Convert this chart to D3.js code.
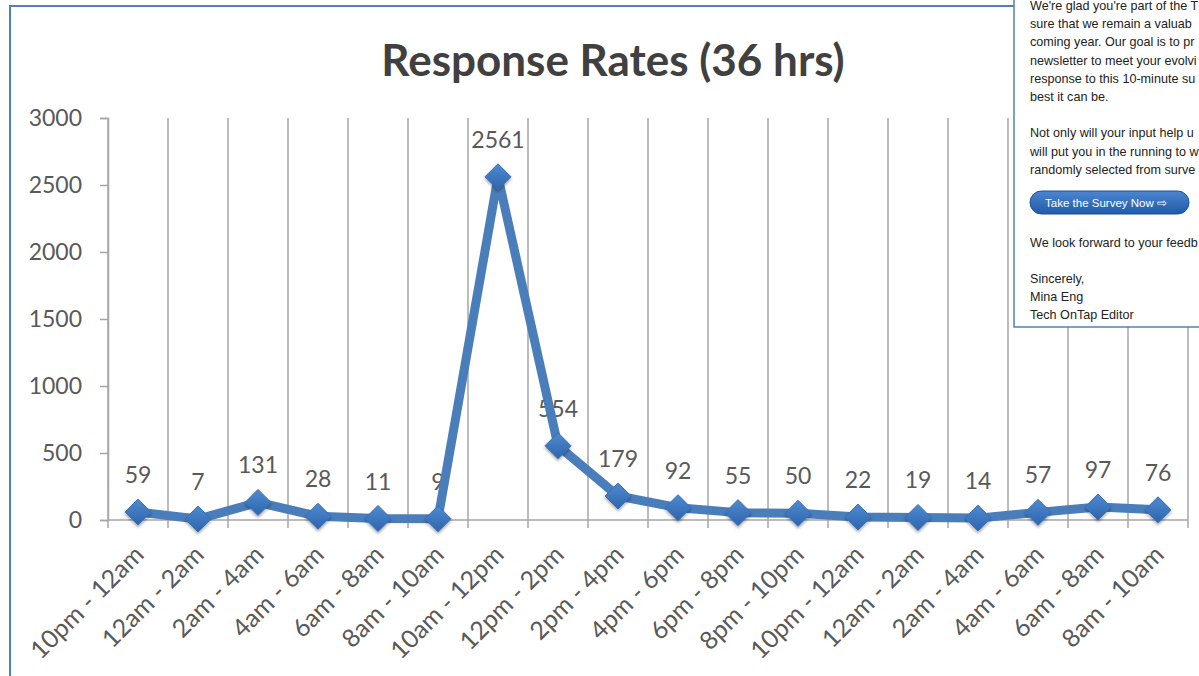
<!DOCTYPE html>
<html>
<head>
<meta charset="utf-8">
<script src="https://cdn.jsdelivr.net/npm/d3@7"></script>
<style>
  body { margin: 0; background: #fff; overflow: hidden; }
</style>
</head>
<body>
<div id="viz"></div>
<script>
var categories = ["10pm - 12am", "12am - 2am", "2am - 4am", "4am - 6am", "6am - 8am", "8am - 10am",
    "10am - 12pm", "12pm - 2pm", "2pm - 4pm", "4pm - 6pm", "6pm - 8pm", "8pm - 10pm",
    "10pm - 12am", "12am - 2am", "2am - 4am", "4am - 6am", "6am - 8am", "8am - 10am"];
var responses = [59, 7, 131, 28, 11, 9, 2561, 554, 179, 92, 55, 50, 22, 19, 14, 57, 97, 76];
var yTicks = [0, 500, 1000, 1500, 2000, 2500, 3000];
var title = "Response Rates (36 hrs)";
// the letter is cut off by the window edge; only the visible part is kept
var letterLines = [
    "We're glad you're part of the T",
    "sure that we remain a valuab",
    "coming year. Our goal is to pr",
    "newsletter to meet your evolvi",
    "response to this 10-minute su",
    "best it can be.",
    "",
    "Not only will your input help u",
    "will put you in the running to w",
    "randomly selected from surve",
    "",
    "",
    "",
    "We look forward to your feedb",
    "",
    "Sincerely,",
    "Mina Eng",
    "Tech OnTap Editor"
];
var buttonLabel = "Take the Survey Now \u21E8";

var width = 1199, height = 676;
var svg = d3.select("#viz").append("svg")
    .attr("width", width)
    .attr("height", height);

var defs = svg.append("defs");
var grad = defs.append("linearGradient").attr("id", "dia")
    .attr("x1", 0).attr("y1", 0).attr("x2", 0).attr("y2", 1);
grad.append("stop").attr("offset", "0%").attr("stop-color", "#4f8ad0");
grad.append("stop").attr("offset", "100%").attr("stop-color", "#2d65ae");
var shadow = defs.append("filter").attr("id", "shd")
    .attr("x", "-50%").attr("y", "-50%").attr("width", "200%").attr("height", "200%");
shadow.append("feDropShadow").attr("dx", 0).attr("dy", 2).attr("stdDeviation", 1.5)
    .attr("flood-color", "#000").attr("flood-opacity", 0.35);
var btnGrad = defs.append("linearGradient").attr("id", "btn")
    .attr("x1", 0).attr("y1", 0).attr("x2", 0).attr("y2", 1);
btnGrad.append("stop").attr("offset", "0%").attr("stop-color", "#4d86cf");
btnGrad.append("stop").attr("offset", "100%").attr("stop-color", "#1f5bab");

// chart frame
svg.append("path")
    .attr("d", "M10,676 L10,6 L1199,6")
    .attr("fill", "none")
    .attr("stroke", "#4f81bd")
    .attr("stroke-width", 2);

var plotLeft = 108, plotRight = 1188, plotTop = 118, plotBottom = 520;
var labelFont = "Lato, 'Open Sans', sans-serif";

var x = d3.scaleBand()
    .domain(d3.range(categories.length))
    .range([plotLeft, plotRight]);

var y = d3.scaleLinear()
    .domain([0, 3000])
    .range([plotBottom, plotTop]);

svg.append("text")
    .attr("x", 613)
    .attr("y", 76)
    .attr("text-anchor", "middle")
    .attr("font-family", labelFont)
    .attr("font-weight", "bold")
    .attr("font-size", 44)
    .attr("fill", "#404040")
    .text(title);

// vertical gridlines at category boundaries
var bounds = d3.range(categories.length + 1).map(function(i) { return plotLeft + i * x.bandwidth(); });
svg.selectAll("line.grid")
    .data(bounds)
    .enter().append("line")
    .attr("class", "grid")
    .attr("x1", function(d) { return d; })
    .attr("x2", function(d) { return d; })
    .attr("y1", plotTop)
    .attr("y2", plotBottom + 8)
    .attr("stroke", "#a6a6a6")
    .attr("stroke-width", 1.5);

var yAxis = svg.append("g")
    .attr("transform", "translate(" + plotLeft + ",0)")
    .call(d3.axisLeft(y).tickValues(yTicks).tickFormat(d3.format("d")).tickSize(8).tickPadding(18));
yAxis.select(".domain").attr("stroke", "#a6a6a6").attr("stroke-width", 1.5);
yAxis.selectAll(".tick line").attr("stroke", "#a6a6a6").attr("stroke-width", 1.5);
yAxis.selectAll(".tick text")
    .attr("font-family", labelFont)
    .attr("font-size", 23)
    .attr("fill", "#595959");

svg.append("line")
    .attr("x1", plotLeft).attr("x2", plotRight)
    .attr("y1", plotBottom).attr("y2", plotBottom)
    .attr("stroke", "#a6a6a6")
    .attr("stroke-width", 1.5);

// x labels rotated
svg.selectAll("text.xlab")
    .data(categories)
    .enter().append("text")
    .attr("class", "xlab")
    .attr("transform", function(d, i) {
        return "translate(" + (x(i) + x.bandwidth() / 2 + 1) + "," + (plotBottom + 30) + ") rotate(-45)";
    })
    .attr("text-anchor", "end")
    .attr("dy", "0.35em")
    .attr("font-family", labelFont)
    .attr("font-size", 25)
    .attr("fill", "#595959")
    .text(function(d) { return d; });

// value labels (drawn under the line)
svg.selectAll("text.val")
    .data(responses)
    .enter().append("text")
    .attr("class", "val")
    .attr("x", function(d, i) { return x(i) + x.bandwidth() / 2; })
    .attr("y", function(d) { return y(d) - 29; })
    .attr("text-anchor", "middle")
    .attr("font-family", labelFont)
    .attr("font-size", 23)
    .attr("fill", "#595959")
    .text(function(d) { return d; });

var line = d3.line()
    .x(function(d, i) { return x(i) + x.bandwidth() / 2; })
    .y(function(d) { return y(d); });

svg.append("path")
    .datum(responses)
    .attr("d", line)
    .attr("fill", "none")
    .attr("stroke", "#4a7ebb")
    .attr("stroke-width", 9)
    .attr("stroke-linejoin", "round");

svg.selectAll("path.marker")
    .data(responses)
    .enter().append("path")
    .attr("class", "marker")
    .attr("d", "M0,-13 L13,0 L0,13 L-13,0 Z")
    .attr("transform", function(d, i) {
        return "translate(" + (x(i) + x.bandwidth() / 2) + "," + y(d) + ")";
    })
    .attr("fill", "url(#dia)")
    .attr("stroke", "#3a70b5")
    .attr("stroke-width", 1)
    .attr("filter", "url(#shd)");

// letter panel overlay
var panel = svg.append("g").attr("transform", "translate(1014,0)");
panel.append("rect")
    .attr("x", 0).attr("y", -5)
    .attr("width", 200).attr("height", 332)
    .attr("fill", "#fff")
    .attr("stroke", "#4f81bd")
    .attr("stroke-width", 1.5);

panel.selectAll("text.letter")
    .data(letterLines)
    .enter().append("text")
    .attr("class", "letter")
    .attr("x", 16)
    .attr("y", function(d, i) { return 10 + i * 18.2; })
    .attr("font-family", "'Liberation Sans', Arial, sans-serif")
    .attr("font-size", 12.6)
    .attr("fill", "#222")
    .text(function(d) { return d; });

panel.append("rect")
    .attr("x", 16).attr("y", 191)
    .attr("width", 159).attr("height", 23)
    .attr("rx", 11.5)
    .attr("fill", "url(#btn)")
    .attr("stroke", "#1b4f96");
panel.append("text")
    .attr("x", 92).attr("y", 206.5)
    .attr("text-anchor", "middle")
    .attr("font-family", "'Liberation Sans', Arial, sans-serif")
    .attr("font-size", 11.5)
    .attr("fill", "#fff")
    .text(buttonLabel);
</script>
</body>
</html>
